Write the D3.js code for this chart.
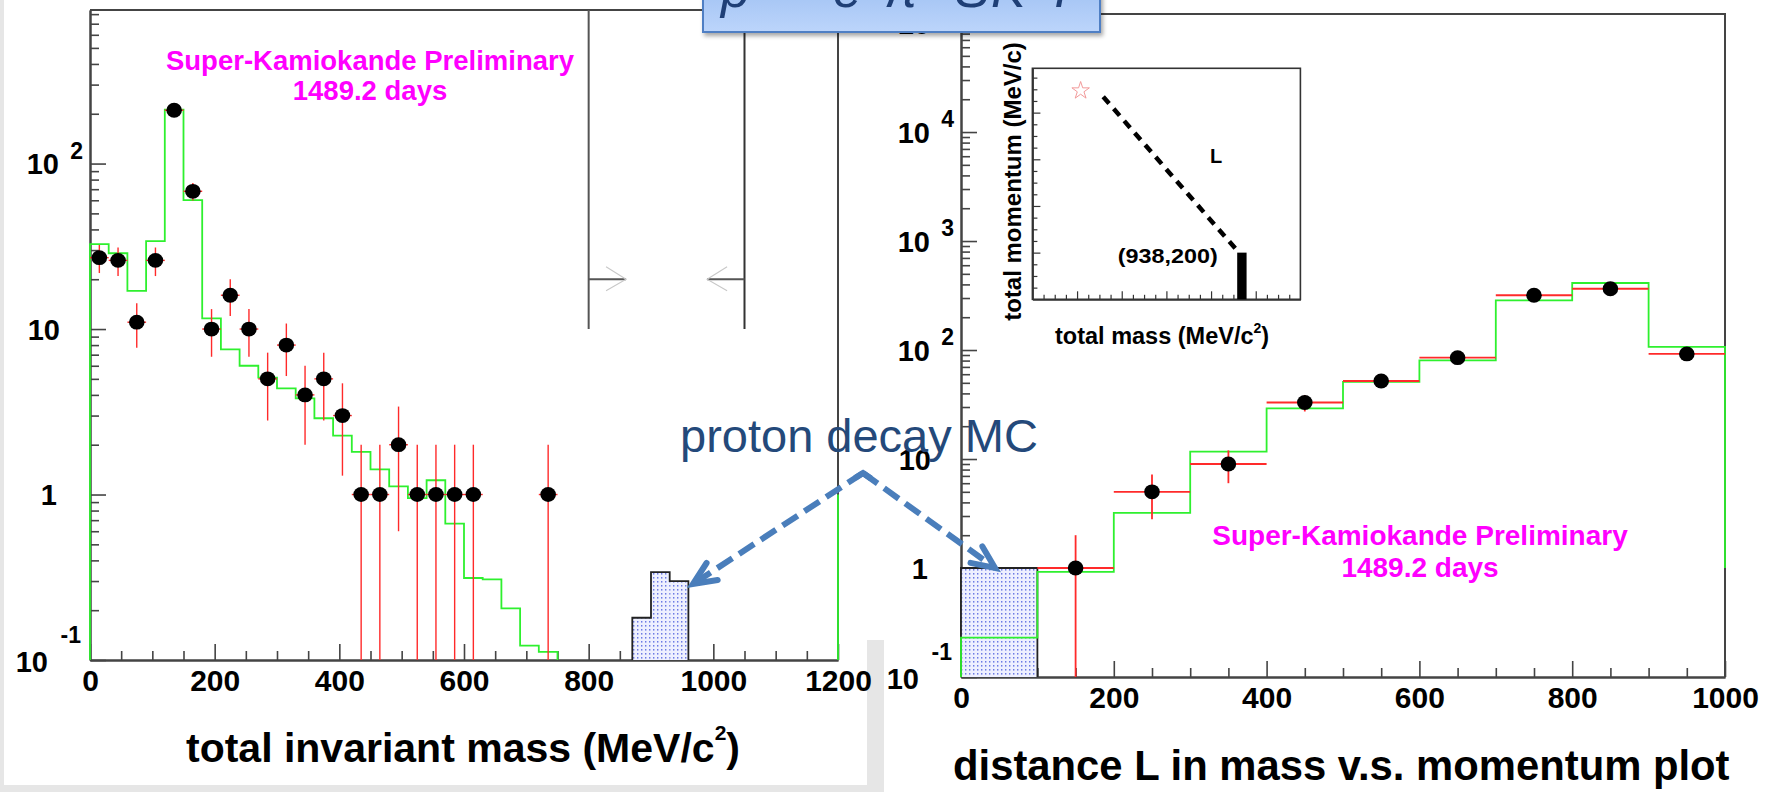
<!DOCTYPE html>
<html>
<head>
<meta charset="utf-8">
<script src="https://cdn.jsdelivr.net/npm/d3@7/dist/d3.min.js"></script>
<style>
  html, body { margin: 0; padding: 0; background: #ffffff; }
  svg { display: block; }
</style>
</head>
<body>
<svg id="fig" width="1773" height="792"></svg>
<script>
// ---------- total invariant mass (left panel) ----------
const massDataX   = [15, 45, 75, 105, 135, 165, 195, 225, 255, 285, 315, 345, 375, 405, 435, 465, 495, 525, 555, 585, 615, 735];
const massDataY   = [27, 26, 11, 26, 210, 68, 10, 16, 10, 5, 8, 4, 5, 3, 1, 1, 2, 1, 1, 1, 1, 1];
const massDataErr = [5.2, 5.1, 3.3, 5.1, 14.5, 8.2, 3.2, 4.0, 3.2, 2.2, 2.8, 2.0, 2.2, 1.7, 1.0, 1.0, 1.4, 1.0, 1.0, 1.0, 1.0, 1.0];
const massBinWidth = 30;
const massMcLow = [0, 30, 60, 90, 120, 150, 180, 210, 240, 270, 300, 330, 360, 390, 420, 450, 480, 510, 540, 570, 600, 630, 660, 690, 720];
const massMcY   = [32.6, 28.7, 17.0, 34.0, 212, 60.2, 11.6, 7.54, 6.0, 5.08, 4.38, 3.81, 2.89, 2.27, 1.81, 1.42, 1.12, 0.95, 1.22, 0.667, 0.313, 0.307, 0.205, 0.122, 0.112];
const massPdkLow = [870, 900, 930];
const massPdkY   = [0.18, 0.34, 0.30];
const massWindow = [800, 1050];      // signal window edges
const massWindowLevels = [10, 20];   // line foot, arrow level
const massWindowArrowLen = 60;
const massTicksMajor = [0, 200, 400, 600, 800, 1000, 1200];
const massDecades = [-1, 0, 1, 2];

// ---------- distance L (right panel) ----------
const distDataX   = [150, 250, 350, 450, 550, 650, 750, 850, 950];
const distDataY   = [1, 5, 9, 33, 52, 85, 318, 365, 92];
const distDataErr = [1.0, 2.2, 3.0, 5.7, 7.2, 9.2, 17.8, 19.1, 9.6];
const distBinWidth = 100;
const distMcLow = [0, 100, 200, 300, 400, 500, 600, 700, 800, 900];
const distMcY   = [0.23, 0.92, 3.2, 11.7, 29.1, 51, 80.3, 285, 412, 107];
const distPdkLow = [0];
const distPdkY   = [1.0];
const distTicksMajor = [0, 200, 400, 600, 800, 1000];
const distDecades = [-1, 0, 1, 2, 3, 4, 5];

// histogram outline closes at this level on a log axis
const mcClosingLevel = 1;

// ---------- inset: mass vs momentum sketch ----------
const insetEvent = [216, 894];                  // [mass, momentum]
const insetLine = [[317, 868], [915, 211]];
const insetBoxMass = [917, 959];
const insetBoxMom = [0, 200];
const insetPointLabel = "(938,200)";
const insetPointLabelAt = [830, 156];
const insetLAt = [795, 584];

const FONT = "'Liberation Sans', Arial, Helvetica, sans-serif";
const AXIS = "#444";
const GREEN = "#2ef02e";
const RED = "#ff2a2a";
const MAGENTA = "#ff00ff";

const svg = d3.select("#fig");
const defs = svg.append("defs");

// dotted fill for the proton decay MC
const pat = defs.append("pattern").attr("id", "pdk").attr("patternUnits", "userSpaceOnUse")
  .attr("width", 4).attr("height", 4);
pat.append("rect").attr("width", 4).attr("height", 4).attr("fill", "#eef0ff");
pat.append("rect").attr("x", 1).attr("y", 1).attr("width", 1.4).attr("height", 1.6).attr("fill", "#6d7be4");

const grad = defs.append("linearGradient").attr("id", "bannerGrad").attr("x1", 0).attr("x2", 0).attr("y1", 0).attr("y2", 1);
grad.append("stop").attr("offset", "0%").attr("stop-color", "#9dbff2");
grad.append("stop").attr("offset", "100%").attr("stop-color", "#bcd5fb");

const shadow = defs.append("filter").attr("id", "shadow").attr("x", "-10%").attr("y", "-50%").attr("width", "120%").attr("height", "200%");
shadow.append("feDropShadow").attr("dx", 2).attr("dy", 3).attr("stdDeviation", 2).attr("flood-color", "#000").attr("flood-opacity", 0.35);

// slide background strips
svg.append("rect").attr("x", 0).attr("y", 0).attr("width", 1773).attr("height", 792).attr("fill", "#ffffff");
svg.append("rect").attr("x", 0).attr("y", 0).attr("width", 4).attr("height", 792).attr("fill", "#e6e6e6");
svg.append("rect").attr("x", 0).attr("y", 785).attr("width", 884).attr("height", 7).attr("fill", "#e6e6e6");
svg.append("rect").attr("x", 867).attr("y", 640).attr("width", 17).attr("height", 152).attr("fill", "#e6e6e6");

// ---------- helpers ----------
function logMinorTicks(domain) {
  const out = [];
  for (let p = -1; p <= 6; p++) {
    for (let k = 2; k <= 9; k++) {
      const v = k * Math.pow(10, p);
      if (v > domain[0] && v < domain[1]) out.push(v);
    }
  }
  return out;
}

function styleAxis(g) {
  g.select(".domain").attr("stroke", AXIS).attr("stroke-width", 2);
  g.selectAll(".tick line").attr("stroke", AXIS).attr("stroke-width", 1.6);
}

function drawYLabels(g, y, axisX, decades) {
  const t = g.append("g").attr("font-family", FONT).attr("font-weight", "bold").attr("fill", "#000");
  decades.forEach(p => {
    const ty = y(Math.pow(10, p));
    if (p === 0) {
      t.append("text").attr("x", axisX - 33).attr("y", ty + 10.5).attr("text-anchor", "end").attr("font-size", 29).text("1");
    } else if (p === 1) {
      t.append("text").attr("x", axisX - 30).attr("y", ty + 10.5).attr("text-anchor", "end").attr("font-size", 29).text("10");
    } else if (p < 0) {
      t.append("text").attr("x", axisX - 42).attr("y", ty + 12).attr("text-anchor", "end").attr("font-size", 29).text("10");
      t.append("text").attr("x", axisX - 9).attr("y", ty - 17).attr("text-anchor", "end").attr("font-size", 23).text(String(p));
    } else {
      t.append("text").attr("x", axisX - 31).attr("y", ty + 10.5).attr("text-anchor", "end").attr("font-size", 29).text("10");
      t.append("text").attr("x", axisX - 7).attr("y", ty - 5).attr("text-anchor", "end").attr("font-size", 23).text(String(p));
    }
  });
}

function mcOutline(x, y, lows, width, vals) {
  const bottom = y.range()[0];
  let d = `M${x(lows[0])},${bottom}`;
  lows.forEach((l, i) => { d += `V${y(vals[i])}H${x(l + width)}`; });
  const lastHigh = lows[lows.length - 1] + width;
  const xmax = x.domain()[1];
  if (lastHigh >= xmax) {
    d += `V${y(mcClosingLevel)}`;
  } else {
    d += `V${bottom}M${x(xmax)},${bottom}V${y(mcClosingLevel)}`;
  }
  return d;
}

function drawPanel(cfg) {
  const { x, y, g } = cfg;
  const [x0, x1] = x.range();
  const [yb, yt] = y.range();

  // axes with inward ticks
  const minorX = d3.range(x.domain()[0], x.domain()[1] + 1, 50).filter(v => cfg.ticksMajor.indexOf(v) < 0);
  g.append("g").attr("transform", `translate(0,${yb})`)
    .call(d3.axisBottom(x).tickValues(minorX).tickSize(-9).tickSizeOuter(0).tickFormat(""))
    .call(styleAxis);
  const xa = g.append("g").attr("transform", `translate(0,${yb})`)
    .call(d3.axisBottom(x).tickValues(cfg.ticksMajor).tickSize(-16).tickSizeOuter(0).tickPadding(10).tickFormat(d3.format("d")))
    .call(styleAxis);
  xa.selectAll(".tick text").attr("font-size", 30).attr("font-weight", "bold").attr("font-family", FONT).attr("fill", "#000");

  const dom = y.domain();
  g.append("g").attr("transform", `translate(${x0},0)`)
    .call(d3.axisLeft(y).tickValues(logMinorTicks(dom)).tickSize(-9).tickSizeOuter(0).tickFormat(""))
    .call(styleAxis);
  g.append("g").attr("transform", `translate(${x0},0)`)
    .call(d3.axisLeft(y).tickValues(cfg.decades.map(p => Math.pow(10, p))).tickSize(-16).tickSizeOuter(0).tickFormat(""))
    .call(styleAxis);
  drawYLabels(g, y, x0, cfg.decades);

  // frame top and right
  g.append("path").attr("d", `M${x0},${yt}H${x1}V${yb}`).attr("fill", "none").attr("stroke", AXIS).attr("stroke-width", 2);

  // proton decay MC (dotted)
  g.selectAll(".pdk").data(cfg.pdkLow).join("rect")
    .attr("x", d => x(d)).attr("width", d => x(d + cfg.binWidth) - x(d))
    .attr("y", (d, i) => y(cfg.pdkY[i])).attr("height", (d, i) => yb - y(cfg.pdkY[i]))
    .attr("fill", "url(#pdk)").attr("stroke", "none");
  let pd = `M${x(cfg.pdkLow[0])},${yb}`;
  cfg.pdkLow.forEach((l, i) => { pd += `V${y(cfg.pdkY[i])}H${x(l + cfg.binWidth)}`; });
  pd += `V${yb}`;
  g.append("path").attr("d", pd).attr("fill", "none").attr("stroke", "#222").attr("stroke-width", 1.8);

  // atmospheric neutrino MC (green outline)
  g.append("path").attr("d", mcOutline(x, y, cfg.mcLow, cfg.binWidth, cfg.mcY))
    .attr("fill", "none").attr("stroke", GREEN).attr("stroke-width", 1.8);

  // data: error bars and points
  const half = cfg.binWidth / 2;
  const eb = g.append("g").attr("stroke", RED).attr("stroke-width", cfg.redWidth);
  cfg.dataX.forEach((cx, i) => {
    const v = cfg.dataY[i], e = cfg.dataErr[i];
    const lo = Math.max(v - e, dom[0]);
    eb.append("line").attr("x1", x(cx)).attr("x2", x(cx)).attr("y1", y(v + e)).attr("y2", y(lo));
    eb.append("line").attr("x1", x(cx - half)).attr("x2", x(cx + half)).attr("y1", y(v)).attr("y2", y(v));
  });
  g.selectAll(".pt").data(cfg.dataX).join("ellipse")
    .attr("cx", d => x(d)).attr("cy", (d, i) => y(cfg.dataY[i]))
    .attr("rx", 7.8).attr("ry", 7.4).attr("fill", "#000");

  // title and preliminary tag
  const title = g.append("text").attr("x", cfg.titleX).attr("y", cfg.titleY)
    .attr("font-family", FONT).attr("font-weight", "bold").attr("font-size", cfg.titleSize).attr("fill", "#000");
  cfg.title.forEach(part => {
    const ts = title.append("tspan").text(part.t);
    if (part.sup) ts.attr("font-size", 21).attr("dy", -22);
    if (part.down) ts.attr("dy", 22);
  });
  const tag = g.append("g").attr("font-family", FONT).attr("font-weight", "bold").attr("fill", MAGENTA)
    .attr("font-size", cfg.tagSize).attr("text-anchor", "middle");
  tag.append("text").attr("x", cfg.tagX).attr("y", cfg.tagY[0]).text("Super-Kamiokande Preliminary");
  tag.append("text").attr("x", cfg.tagX).attr("y", cfg.tagY[1]).text("1489.2 days");
}

// ---------- left panel ----------
const gL = svg.append("g");
const xL = d3.scaleLinear().domain([0, 1200]).range([90, 838]);
const yL = d3.scaleLog().domain([0.1, Math.pow(10, 2.928)]).range([660, 10]);
drawPanel({
  g: gL, x: xL, y: yL, ticksMajor: massTicksMajor, decades: massDecades,
  binWidth: massBinWidth, mcLow: massMcLow, mcY: massMcY,
  pdkLow: massPdkLow, pdkY: massPdkY,
  dataX: massDataX, dataY: massDataY, dataErr: massDataErr, redWidth: 1.4,
  title: [{ t: "total invariant mass (MeV/c" }, { t: "2", sup: true }, { t: ")", down: true }],
  titleX: 186, titleY: 762, titleSize: 41,
  tagX: 370, tagY: [70, 100], tagSize: 27.5
});

// signal window markers
const win = gL.append("g");
massWindow.forEach((m, i) => {
  const xm = xL(m);
  win.append("line").attr("x1", xm).attr("x2", xm).attr("y1", yL.range()[1]).attr("y2", yL(massWindowLevels[0]))
    .attr("stroke", i === 0 ? "#555" : "#333").attr("stroke-width", 2);
  const dir = i === 0 ? 1 : -1;
  const xe = xL(m + dir * massWindowArrowLen);
  const ya = yL(massWindowLevels[1]);
  win.append("line").attr("x1", xm).attr("x2", xe).attr("y1", ya).attr("y2", ya).attr("stroke", "#555").attr("stroke-width", 2);
  win.append("path").attr("d", `M${xe - dir * 20},${ya - 12.5}L${xe},${ya}L${xe - dir * 20},${ya + 11.5}`)
    .attr("fill", "none").attr("stroke", "#c8c8c8").attr("stroke-width", 1.1);
});

// ---------- right panel ----------
const gR = svg.append("g");
const xR = d3.scaleLinear().domain([0, 1000]).range([961, 1725]);
const yR = d3.scaleLog().domain([0.1, Math.pow(10, 5.083)]).range([677, 14]);
drawPanel({
  g: gR, x: xR, y: yR, ticksMajor: distTicksMajor, decades: distDecades,
  binWidth: distBinWidth, mcLow: distMcLow, mcY: distMcY,
  pdkLow: distPdkLow, pdkY: distPdkY,
  dataX: distDataX, dataY: distDataY, dataErr: distDataErr, redWidth: 1.8,
  title: [{ t: "distance L in mass v.s. momentum plot" }],
  titleX: 953, titleY: 780, titleSize: 41.8,
  tagX: 1420, tagY: [545, 577], tagSize: 28
});

// ---------- inset ----------
const gI = svg.append("g");
const xI = d3.scaleLinear().domain([0, 1200]).range([1032.4, 1300.4]);
const yI = d3.scaleLinear().domain([0, 990]).range([299.3, 68.3]);
gI.append("rect").attr("x", xI(0)).attr("y", yI(990)).attr("width", xI(1200) - xI(0)).attr("height", yI(0) - yI(990))
  .attr("fill", "#fff").attr("stroke", "#333").attr("stroke-width", 1.6);
const insetStyle = g => {
  g.select(".domain").attr("stroke", "#333").attr("stroke-width", 1.6);
  g.selectAll(".tick line").attr("stroke", "#333").attr("stroke-width", 1.2);
};
const iMinX = d3.range(50, 1200, 50).filter(v => v % 200 !== 0);
const iMajX = d3.range(200, 1200, 200);
const iMinY = d3.range(50, 990, 50).filter(v => v % 200 !== 0);
const iMajY = d3.range(200, 990, 200);
gI.append("g").attr("transform", `translate(0,${yI(0)})`).call(d3.axisBottom(xI).tickValues(iMinX).tickSize(-4.5).tickSizeOuter(0).tickFormat("")).call(insetStyle);
gI.append("g").attr("transform", `translate(0,${yI(0)})`).call(d3.axisBottom(xI).tickValues(iMajX).tickSize(-8).tickSizeOuter(0).tickFormat("")).call(insetStyle);
gI.append("g").attr("transform", `translate(${xI(0)},0)`).call(d3.axisLeft(yI).tickValues(iMinY).tickSize(-5).tickSizeOuter(0).tickFormat("")).call(insetStyle);
gI.append("g").attr("transform", `translate(${xI(0)},0)`).call(d3.axisLeft(yI).tickValues(iMajY).tickSize(-8).tickSizeOuter(0).tickFormat("")).call(insetStyle);

gI.append("rect").attr("x", xI(insetBoxMass[0])).attr("y", yI(insetBoxMom[1]))
  .attr("width", xI(insetBoxMass[1]) - xI(insetBoxMass[0])).attr("height", yI(insetBoxMom[0]) - yI(insetBoxMom[1]))
  .attr("fill", "#000");
gI.append("line")
  .attr("x1", xI(insetLine[0][0])).attr("y1", yI(insetLine[0][1]))
  .attr("x2", xI(insetLine[1][0])).attr("y2", yI(insetLine[1][1]))
  .attr("stroke", "#000").attr("stroke-width", 4.5).attr("stroke-dasharray", "9,7");
gI.append("path")
  .attr("d", d3.symbol().type(d3.symbolStar).size(95)())
  .attr("transform", `translate(${xI(insetEvent[0])},${yI(insetEvent[1])})`)
  .attr("fill", "none").attr("stroke", "#f29a9a").attr("stroke-width", 1);
gI.append("text").attr("x", xI(insetLAt[0])).attr("y", yI(insetLAt[1]))
  .attr("font-family", FONT).attr("font-weight", "bold").attr("font-size", 20).text("L");
gI.append("text").attr("x", xI(insetPointLabelAt[0])).attr("y", yI(insetPointLabelAt[1]))
  .attr("text-anchor", "end").attr("font-family", FONT).attr("font-weight", "bold").attr("font-size", 21)
  .attr("textLength", 100).attr("lengthAdjust", "spacingAndGlyphs").text(insetPointLabel);
gI.append("text").attr("transform", "translate(1021,181.5) rotate(-90)").attr("text-anchor", "middle")
  .attr("font-family", FONT).attr("font-weight", "bold").attr("font-size", 24).text("total momentum (MeV/c)");
const il = gI.append("text").attr("x", 1055).attr("y", 343.5)
  .attr("font-family", FONT).attr("font-weight", "bold").attr("font-size", 23.5);
il.append("tspan").text("total mass (MeV/c");
il.append("tspan").attr("font-size", 14).attr("dy", -11).text("2");
il.append("tspan").attr("dy", 11).text(")");

// ---------- annotation: proton decay MC ----------
const ann = svg.append("g");
ann.append("text").attr("x", 680).attr("y", 452).attr("font-family", FONT).attr("font-size", 47)
  .attr("fill", "#24497a").text("proton decay MC");
const apex = [863, 473];
const tips = [[693, 584], [995, 568]];
const BLUE = "#4a7ebb";
tips.forEach(tip => {
  const dx = tip[0] - apex[0], dy = tip[1] - apex[1];
  const len = Math.hypot(dx, dy);
  const ux = dx / len, uy = dy / len;
  ann.append("line").attr("x1", apex[0]).attr("y1", apex[1])
    .attr("x2", tip[0] - ux * 6).attr("y2", tip[1] - uy * 6)
    .attr("stroke", BLUE).attr("stroke-width", 6).attr("stroke-dasharray", "18,8");
  const back = Math.atan2(-uy, -ux), spread = 24 * Math.PI / 180, bl = 25;
  const b1 = [tip[0] + bl * Math.cos(back + spread), tip[1] + bl * Math.sin(back + spread)];
  const b2 = [tip[0] + bl * Math.cos(back - spread), tip[1] + bl * Math.sin(back - spread)];
  ann.append("path").attr("d", `M${b1[0]},${b1[1]}L${tip[0]},${tip[1]}L${b2[0]},${b2[1]}`)
    .attr("fill", "none").attr("stroke", BLUE).attr("stroke-width", 6).attr("stroke-linejoin", "miter").attr("stroke-linecap", "round");
});
ann.append("path").attr("d", `M${apex[0] - 8},${apex[1] + 5}L${apex[0]},${apex[1]}L${apex[0] + 8},${apex[1] + 5.5}`)
  .attr("fill", "none").attr("stroke", BLUE).attr("stroke-width", 6);

// ---------- slide title banner ----------
const banner = svg.append("g");
banner.append("rect").attr("x", 703).attr("y", -20).attr("width", 397).attr("height", 52)
  .attr("fill", "url(#bannerGrad)").attr("stroke", "#4f7fc4").attr("stroke-width", 2).attr("filter", "url(#shadow)");
const bt = banner.append("text").attr("y", 6.5).attr("font-family", FONT).attr("font-style", "italic")
  .attr("font-size", 52).attr("fill", "#1f3f76");
[["p", 721, 6.5], ["\u2192", 748, 0], ["e", 833, 6.5], ["+", 862, -14], ["\u03c0", 884, 6.5], ["0", 915, -14],
 ["S", 955, 6.5], ["K", 991, 6.5], ["-", 1029, 0], ["I", 1054, 6.5]]
  .forEach(([ch, xx, yy]) => bt.append("tspan").attr("x", xx).attr("y", yy).text(ch));
</script>
</body>
</html>
